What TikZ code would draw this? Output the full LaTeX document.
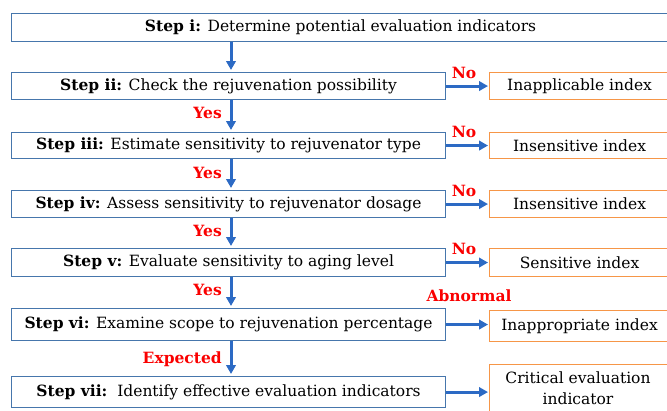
\documentclass[tikz,border=0pt]{standalone}
\usepackage{fontspec}
\setmainfont{DejaVu Serif}
\usetikzlibrary{arrows.meta}
\definecolor{boxblue}{RGB}{70,118,172}
\definecolor{arrowblue}{RGB}{44,106,196}
\definecolor{boxorange}{RGB}{246,150,72}
\definecolor{lblred}{RGB}{250,0,0}
\begin{document}
\begin{tikzpicture}[x=1pt,y=-1pt,
  txt/.style={font=\fontsize{15.5}{18}\selectfont},
  stepbox/.style={draw=boxblue, line width=1.1pt, fill=white, inner sep=0pt,
    anchor=north west, minimum width=434pt, txt},
  outbox/.style={draw=boxorange, line width=1.1pt, fill=white, inner sep=0pt,
    anchor=north west, minimum width=180pt, txt},
  flow/.style={draw=arrowblue, line width=3pt,
    -{Triangle[length=9pt,width=9.5pt]}},
  tag/.style={text=lblred, font=\bfseries\fontsize{15.5}{18}\selectfont, inner sep=0pt}
]
\useasboundingbox (0,0) rectangle (667,410);
\coordinate (xa) at (231,0);

% main chain of steps
\node[stepbox, minimum width=658pt, minimum height=28pt] (s1) at (11,13)
  {\textbf{Step i:} Determine potential evaluation indicators};
\node[stepbox, minimum height=27pt] (s2) at (11,72)
  {\textbf{Step ii:} Check the rejuvenation possibility};
\node[stepbox, minimum height=26pt] (s3) at (11,132)
  {\textbf{Step iii:} Estimate sensitivity to rejuvenator type};
\node[stepbox, minimum height=27pt] (s4) at (11,190)
  {\textbf{Step iv:} Assess sensitivity to rejuvenator dosage};
\node[stepbox, minimum height=28pt] (s5) at (11,248)
  {\textbf{Step v:} Evaluate sensitivity to aging level};
\node[stepbox, minimum height=32pt] (s6) at (11,308)
  {\textbf{Step vi:} Examine scope to rejuvenation percentage};
\node[stepbox, minimum height=31pt] (s7) at (11,376)
  {\textbf{Step vii:}\ \ Identify effective evaluation indicators};

% outcomes
\node[outbox, minimum height=27pt] (o2) at (489,72) {Inapplicable index};
\node[outbox, minimum height=26pt] (o3) at (489,132) {Insensitive index};
\node[outbox, minimum height=27pt] (o4) at (489,190) {Insensitive index};
\node[outbox, minimum height=28pt] (o5) at (489,248) {Sensitive index};
\node[outbox, minimum height=31pt] (o6) at (489,310) {Inappropriate index};
\node[outbox, minimum height=52pt] (o7) at (489,364) {};
\node[align=center, inner sep=0pt, font=\fontsize{15.5}{21.5}\selectfont]
  (o7t) at (578,388) {Critical evaluation\\indicator};

% downward flow
\draw[flow, shorten >=2pt] (s1.south -| xa) -- (s2.north -| xa);
\draw[flow, shorten >=2pt] (s2.south -| xa) -- (s3.north -| xa);
\draw[flow, shorten >=2pt] (s3.south -| xa) -- (s4.north -| xa);
\draw[flow, shorten >=2pt] (s4.south -| xa) -- (s5.north -| xa);
\draw[flow, shorten >=2pt] (s5.south -| xa) -- (s6.north -| xa);
\draw[flow, shorten >=2pt] (s6.south -| xa) -- (s7.north -| xa);

% sideways flow
\draw[flow, shorten >=1pt] (s2.east) -- (s2.east -| o2.west);
\draw[flow, shorten >=1pt] (s3.east) -- (s3.east -| o3.west);
\draw[flow, shorten >=1pt] (s4.east) -- (s4.east -| o4.west);
\draw[flow, shorten >=1pt] (s5.east) -- (s5.east -| o5.west);
\draw[flow, shorten >=1pt] (s6.east) -- (s6.east -| o6.west);
\draw[flow, shorten >=1pt] (s7.east) -- (s7.east -| o7.west);

% decision labels
\node[tag] (n2) at (464,73) {No};
\node[tag] (n3) at (464,132) {No};
\node[tag] (n4) at (464,191) {No};
\node[tag] (n5) at (464,249) {No};
\node[tag] (ab) at (469,296) {Abnormal};
\node[tag, anchor=east] (y3) at (222,113) {Yes};
\node[tag, anchor=east] (y4) at (222,173) {Yes};
\node[tag, anchor=east] (y5) at (222,231) {Yes};
\node[tag, anchor=east] (y6) at (222,290) {Yes};
\node[tag, anchor=east] (ex) at (222,359) {Expected};
\end{tikzpicture}
\end{document}
